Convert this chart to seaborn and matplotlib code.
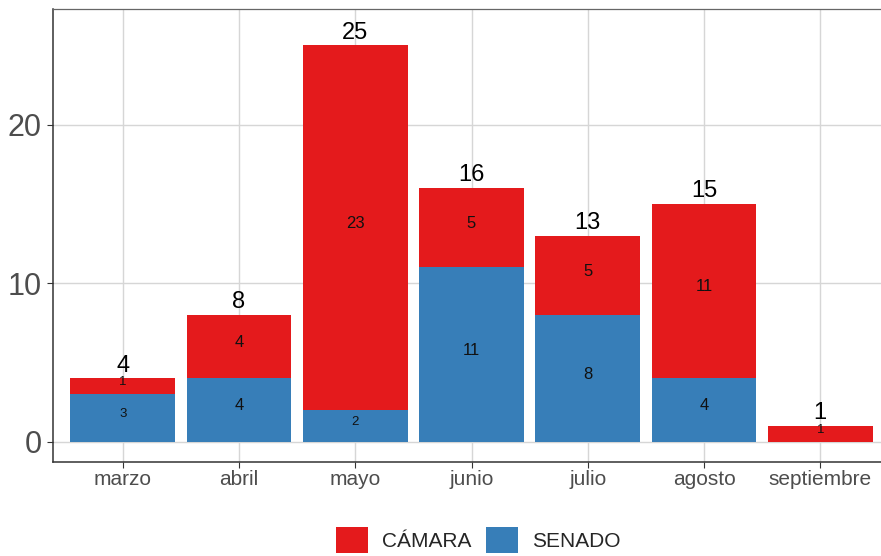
"""
Proyectos por mes y cámara de origen
=====================================
Barras apiladas (SENADO abajo, CÁMARA arriba) con etiquetas por segmento
y total encima de cada barra.
"""

import matplotlib.pyplot as plt
from matplotlib.patches import Patch
import seaborn as sns

# ── Datos ──────────────────────────────────────────────────────────────────────
MESES  = ["marzo", "abril", "mayo", "junio", "julio", "agosto", "septiembre"]
SENADO = [3, 4, 2, 11, 8, 4, 0]
CAMARA = [1, 4, 23, 5, 5, 11, 1]
Y_TICKS = [0, 10, 20]

RED  = "#E41A1C"
BLUE = "#377EB8"

# ── Setup ──────────────────────────────────────────────────────────────────────
sns.set_theme(style="white")
plt.rcParams["font.family"] = ["Liberation Sans", "DejaVu Sans"]

W, H = 881, 556
fig = plt.figure(figsize=(W / 100, H / 100), dpi=100)
ax = fig.add_axes([53 / W, (H - 461.7) / H, (890 - 53) / W, (461.7 - 9.3) / H])

totales = [s + c for s, c in zip(SENADO, CAMARA)]

# barra completa en rojo, luego senado encima en azul
sns.barplot(x=MESES, y=totales, color=RED, saturation=1, width=0.9,
            linewidth=0, ax=ax, zorder=2)
sns.barplot(x=MESES, y=SENADO, color=BLUE, saturation=1, width=0.9,
            linewidth=0, ax=ax, zorder=3)

# ── Etiquetas ──────────────────────────────────────────────────────────────────
def seg_size(v):
    return 9.5 if v < 4 else 12

for i, (s, c, t) in enumerate(zip(SENADO, CAMARA, totales)):
    if s > 0:
        ax.annotate(str(s), (i, s / 2), xytext=(0, 3), textcoords="offset points",
                    ha="center", va="center", fontsize=seg_size(s),
                    color="#111111", zorder=4)
    if c > 0:
        ax.annotate(str(c), (i, s + c / 2), xytext=(0, 3), textcoords="offset points",
                    ha="center", va="center", fontsize=seg_size(c),
                    color="#111111", zorder=4)
    ax.annotate(str(t), (i, t), xytext=(0, 1.2), textcoords="offset points",
                ha="center", va="bottom", fontsize=17, color="black", zorder=4)

# ── Ejes ───────────────────────────────────────────────────────────────────────
ax.set_xlim(-0.6, 6.6)
ax.set_ylim(-1.26, 27.28)
ax.set_yticks(Y_TICKS)
ax.set_xlabel("")
ax.set_ylabel("")
ax.grid(True, color="#D6D6D6", linewidth=1.0, zorder=0)
ax.set_axisbelow(True)

ax.tick_params(axis="y", labelsize=22, labelcolor="#4D4D4D", length=4,
               width=0.8, color="#333333", pad=4, left=True)
ax.tick_params(axis="x", labelsize=15, labelcolor="#4D4D4D", length=4,
               width=0.8, color="#333333", pad=2, bottom=True)

for side in ["left", "bottom"]:
    ax.spines[side].set_color("#333333")
    ax.spines[side].set_linewidth(1.1)
ax.spines["top"].set_color("#666666")
ax.spines["top"].set_linewidth(0.9)
ax.spines["right"].set_visible(False)

# ── Leyenda ────────────────────────────────────────────────────────────────────
handles = [Patch(facecolor=RED, edgecolor="none", label="CÁMARA"),
           Patch(facecolor=BLUE, edgecolor="none", label="SENADO")]
fig.legend(handles=handles, loc="upper left", ncol=2, frameon=False,
           bbox_to_anchor=(335.7 / W, 1 - 527 / H), fontsize=15,
           handlelength=1.54, handleheight=1.54, handletextpad=0.66,
           columnspacing=0.72, borderpad=0, borderaxespad=0)

fig.savefig("out.png", dpi=100)
